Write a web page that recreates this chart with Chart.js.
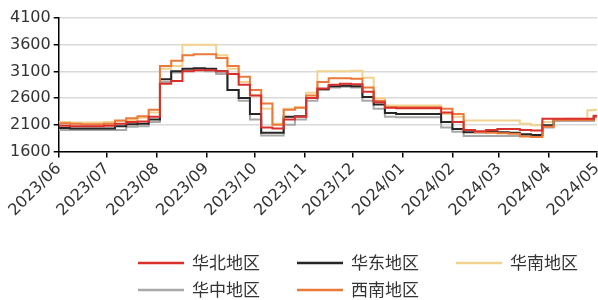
<!DOCTYPE html>
<html>
<head>
<meta charset="utf-8">
<script src="https://cdn.jsdelivr.net/npm/chart.js@4.4.1/dist/chart.umd.min.js"></script>
<style>
  body { margin: 0; background: #fff; }
  #wrap { width: 598px; height: 300px; }
</style>
</head>
<body>
<div id="wrap"><canvas id="myChart" width="598" height="300"></canvas></div>
<script>
// weekly observation dates
const dates = [
  "2023-06-01", "2023-06-08", "2023-06-15", "2023-06-22", "2023-06-29",
  "2023-07-06", "2023-07-13", "2023-07-20", "2023-07-27",
  "2023-08-03", "2023-08-10", "2023-08-17", "2023-08-24", "2023-08-31",
  "2023-09-07", "2023-09-14", "2023-09-21", "2023-09-28",
  "2023-10-05", "2023-10-12", "2023-10-19", "2023-10-26",
  "2023-11-02", "2023-11-09", "2023-11-16", "2023-11-23", "2023-11-30",
  "2023-12-07", "2023-12-14", "2023-12-21", "2023-12-28",
  "2024-01-04", "2024-01-11", "2024-01-18", "2024-01-25",
  "2024-02-01", "2024-02-08", "2024-02-15", "2024-02-22", "2024-02-29",
  "2024-03-07", "2024-03-14", "2024-03-21", "2024-03-28",
  "2024-04-04", "2024-04-11", "2024-04-18", "2024-04-25",
  "2024-04-29", "2024-05-01"
];

const huabei = [
  2080, 2070, 2070, 2070, 2080,
  2120, 2150, 2160, 2250,
  2870, 2920, 3100, 3120, 3120,
  3100, 3050, 2850, 2650,
  2050, 2030, 2200, 2250,
  2600, 2780, 2850, 2870, 2860,
  2720, 2520, 2420, 2410,
  2410, 2410, 2410, 2330,
  2150, 2000, 1980, 2000, 2020,
  2020, 2000, 1990, 2210,
  2210, 2210, 2210, 2210,
  2270, 2270
];
const huadong = [
  2040, 2030, 2030, 2030, 2030,
  2070, 2110, 2120, 2200,
  2950, 3100, 3150, 3160, 3150,
  3100, 2750, 2600, 2300,
  1950, 1950, 2250, 2260,
  2600, 2770, 2820, 2830, 2820,
  2620, 2480, 2320, 2300,
  2300, 2300, 2300, 2150,
  2020, 1960, 1960, 1970, 1960,
  1950, 1920, 1910, 2090,
  2190, 2190, 2190, 2190,
  2260, 2260
];
const huanan = [
  2150, 2140, 2140, 2140, 2150,
  2170, 2190, 2230, 2330,
  3150, 3200, 3600, 3600, 3600,
  3400, 3150, 2900, 2650,
  2400, 2120, 2400, 2430,
  2700, 3100, 3100, 3100, 3110,
  2980, 2600, 2460, 2460,
  2460, 2460, 2460, 2300,
  2250, 2180, 2180, 2180, 2180,
  2180, 2120, 2090, 2150,
  2200, 2210, 2210, 2370,
  2380, 2380
];
const huazhong = [
  2000, 2000, 2000, 2000, 2000,
  2000, 2060, 2070, 2150,
  2900, 3080, 3110, 3120, 3100,
  3050, 2750, 2550, 2200,
  1900, 1900, 2100, 2200,
  2550, 2750, 2800, 2810, 2800,
  2550, 2400, 2250, 2240,
  2240, 2240, 2240, 2050,
  1970, 1890, 1890, 1890, 1890,
  1890, 1890, 1890, 2050,
  2170, 2170, 2170, 2170,
  2240, 2240
];
const xinan = [
  2130, 2120, 2110, 2110, 2120,
  2180, 2220, 2260, 2380,
  3200, 3300, 3400, 3420, 3420,
  3350, 3200, 3000, 2750,
  2500, 2100, 2380, 2420,
  2650, 2900, 2970, 2970, 2960,
  2800, 2550, 2430, 2430,
  2430, 2430, 2430, 2400,
  2300, 2000, 1960, 1950, 1940,
  1930, 1880, 1870, 2060,
  2190, 2190, 2190, 2190,
  2260, 2260
];

const monthStarts = [
  "2023-06-01", "2023-07-01", "2023-08-01", "2023-09-01", "2023-10-01", "2023-11-01",
  "2023-12-01", "2024-01-01", "2024-02-01", "2024-03-01", "2024-04-01", "2024-05-01"
];
const monthLabels = [
  "2023/06", "2023/07", "2023/08", "2023/09", "2023/10", "2023/11",
  "2023/12", "2024/01", "2024/02", "2024/03", "2024/04", "2024/05"
];

const yMin = 1600, yMax = 4100, yStep = 500;

const font = "'DejaVu Sans', sans-serif";
const cjkFont = "'Noto Sans CJK SC', sans-serif";

function dayIndex(s) {
  const p = s.split("-").map(Number);
  return (Date.UTC(p[0], p[1] - 1, p[2]) - Date.UTC(2023, 5, 1)) / 86400000;
}

function series(values) {
  return values.map((v, i) => ({ x: dayIndex(dates[i]), y: v }));
}

const datasets = [
  { label: "华北地区", data: series(huabei), borderColor: "#d9302c", order: 1 },
  { label: "华东地区", data: series(huadong), borderColor: "#262626", order: 3 },
  { label: "华南地区", data: series(huanan), borderColor: "#f2d28f", order: 5 },
  { label: "华中地区", data: series(huazhong), borderColor: "#a8a8a8", order: 4 },
  { label: "西南地区", data: series(xinan), borderColor: "#eb7a3a", order: 2 }
];
datasets.forEach(d => {
  d.borderWidth = 2;
  d.pointRadius = 0;
  d.stepped = true;
  d.fill = false;
  d.backgroundColor = d.borderColor;
});

// legend drawn in two rows of three columns, like the original
const legendBox = {
  id: "legendBox",
  afterDraw(chart) {
    const ctx = chart.ctx;
    const startX = 138, colW = 159, rowY = 263, rowH = 27, lineLen = 46;
    ctx.save();
    ctx.font = "17px " + cjkFont;
    ctx.textBaseline = "middle";
    ctx.fillStyle = "#333";
    chart.data.datasets.forEach((d, i) => {
      const x = startX + (i % 3) * colW;
      const y = rowY + Math.floor(i / 3) * rowH;
      ctx.strokeStyle = d.borderColor;
      ctx.lineWidth = 2.5;
      ctx.beginPath();
      ctx.moveTo(x, y);
      ctx.lineTo(x + lineLen, y);
      ctx.stroke();
      ctx.fillText(d.label, x + lineLen + 8, y);
    });
    ctx.restore();
  }
};

new Chart(document.getElementById("myChart"), {
  type: "line",
  data: { datasets: datasets },
  options: {
    responsive: false,
    animation: false,
    events: [],
    layout: { padding: { left: 7, top: 18, right: 1, bottom: 78 } },
    plugins: { legend: { display: false }, tooltip: { enabled: false } },
    scales: {
      x: {
        type: "linear",
        min: dayIndex(monthStarts[0]),
        max: dayIndex(monthStarts[monthStarts.length - 1]),
        afterBuildTicks: scale => {
          scale.ticks = monthStarts.map(m => ({ value: dayIndex(m) }));
        },
        afterFit: scale => { scale.paddingRight = 0; scale.paddingLeft = 0; },
        grid: { drawOnChartArea: false, drawTicks: true, tickLength: 6, tickColor: "#000", lineWidth: 1.5 },
        border: { color: "#000", width: 1.5 },
        ticks: {
          autoSkip: false,
          minRotation: 45,
          maxRotation: 45,
          padding: 2,
          color: "#333",
          font: { family: font, size: 16 },
          callback: v => {
            const k = monthStarts.findIndex(m => dayIndex(m) === v);
            return k >= 0 ? monthLabels[k] : "";
          }
        }
      },
      y: {
        min: yMin,
        max: yMax,
        ticks: {
          stepSize: yStep,
          color: "#333",
          padding: 3,
          font: { family: font, size: 16 },
          callback: v => String(v)
        },
        grid: { color: "#d9d9d9", lineWidth: 1.5, tickColor: "#000", tickLength: 5 },
        border: { color: "#000", width: 1.5 }
      }
    }
  },
  plugins: [legendBox]
});
</script>
</body>
</html>
